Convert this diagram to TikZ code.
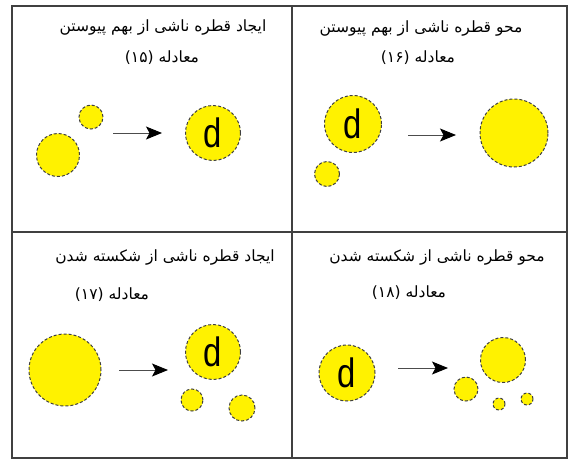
\documentclass[tikz,border=0pt]{standalone}
\usepackage{fontspec}
\setmainfont{Liberation Sans}
\newfontfamily\arabicfont[Script=Arabic]{DejaVu Sans}
\TeXXeTstate=1
\usetikzlibrary{arrows.meta}
\newcommand{\dlabel}{\scalebox{0.8}[1]{d}}
\begin{document}
\begin{tikzpicture}[x=1pt,y=-1pt,
  drop/.style={circle, fill=yellow, draw=black!75, line width=1pt, densely dashed, inner sep=0pt, font=\fontsize{41}{41}\selectfont},
  frame/.style={draw=black!75, line width=1.3pt},
  flow/.style={draw=black!70, line width=1pt, -{Stealth[length=16pt,width=13pt,inset=3.5pt,color=black,fill=black]}},
  title/.style={font=\arabicfont\fontsize{15.5}{18}\selectfont, inner sep=0pt}]
\useasboundingbox (0,0) rectangle (572,461);
\fill[white] (0,0) rectangle (572,461);
% table
\draw[frame] (12,6) rectangle (567,458);
\draw[frame] (292,6) -- (292,458);
\draw[frame] (12,232) -- (567,232);
% texts
\node[title] (t1a) at (163,28) {\beginR ایجاد قطره ناشی از بهم پیوستن\endR};
\node[title] (t1b) at (162,58) {\beginR معادله \beginL(۱۵)\endL{}\endR};
\node[title] (t2a) at (421,29) {\beginR محو قطره ناشی از بهم پیوستن\endR};
\node[title] (t2b) at (418,58) {\beginR معادله \beginL(۱۶)\endL{}\endR};
\node[title] (t3a) at (165,257) {\beginR ایجاد قطره ناشی از شکسته شدن\endR};
\node[title] (t3b) at (112,295) {\beginR معادله \beginL(۱۷)\endL{}\endR};
\node[title] (t4a) at (437,257) {\beginR محو قطره ناشی از شکسته شدن\endR};
\node[title] (t4b) at (409,293) {\beginR معادله \beginL(۱۸)\endL{}\endR};
% panel 1
\node[drop, minimum size=43pt] (p1a) at (58,155) {};
\node[drop, minimum size=24pt] (p1b) at (91,117) {};
\node[drop, minimum size=55pt] (p1d) at (213,133) {\dlabel};
\coordinate (a1s) at (113,133);
\coordinate (a1e) at (162,133);
\draw[flow] (a1s) -- (a1e);
% panel 2
\node[drop, minimum size=57pt] (p2d) at (353,124) {\dlabel};
\node[drop, minimum size=25pt] (p2b) at (327,174) {};
\node[drop, minimum size=68pt] (p2c) at (514,133) {};
\coordinate (a2s) at (408,135);
\coordinate (a2e) at (456,135);
\draw[flow] (a2s) -- (a2e);
% panel 3
\node[drop, minimum size=72pt] (p3a) at (65,370) {};
\node[drop, minimum size=55pt] (p3d) at (213,352) {\dlabel};
\node[drop, minimum size=22pt] (p3b) at (192,400) {};
\node[drop, minimum size=26pt] (p3c) at (242,408) {};
\coordinate (a3s) at (119,370);
\coordinate (a3e) at (168,370);
\draw[flow] (a3s) -- (a3e);
% panel 4
\node[drop, minimum size=56pt] (p4d) at (347,373) {\dlabel};
\node[drop, minimum size=45pt] (p4a) at (503,360) {};
\node[drop, minimum size=24pt] (p4b) at (466,389) {};
\node[drop, minimum size=12pt] (p4c) at (499,404) {};
\node[drop, minimum size=12pt] (p4e) at (527,399) {};
\coordinate (a4s) at (398,368);
\coordinate (a4e) at (448,368);
\draw[flow] (a4s) -- (a4e);
\end{tikzpicture}
\end{document}
